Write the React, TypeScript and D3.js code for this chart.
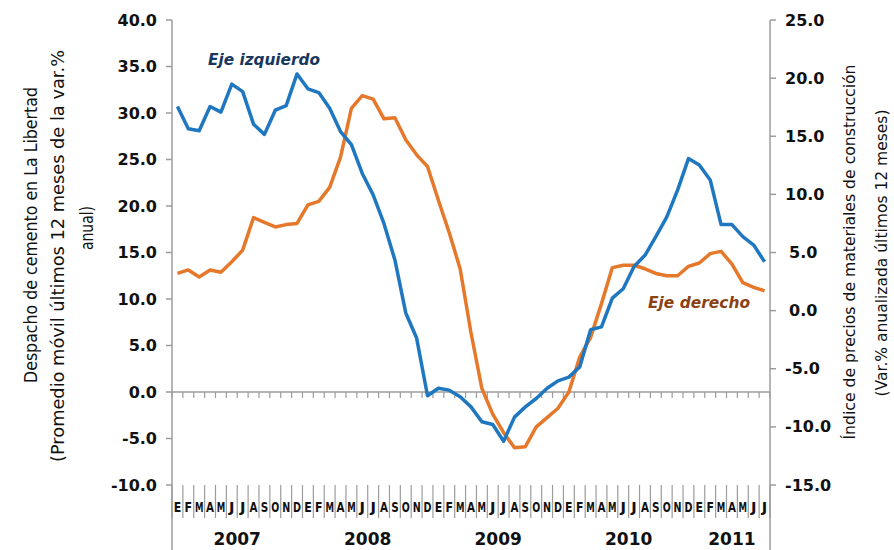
import React from "react";
import * as d3 from "d3";

const months2007 = ["E", "F", "M", "A", "M", "J", "J", "A", "S", "O", "N", "D"];
const monthLetters: string[] = [
  ...months2007, ...months2007, ...months2007, ...months2007,
  "E", "F", "M", "A", "M", "J", "J",
];
const years = ["2007", "2008", "2009", "2010", "2011"];
const yearMonthCounts = [12, 12, 12, 12, 7];

// Despacho de cemento (eje izquierdo)
const cemento = [
  30.7, 28.3, 28.1, 30.7, 30.1, 33.1, 32.3, 28.8, 27.7, 30.3, 30.8, 34.2,
  32.6, 32.2, 30.5, 28.0, 26.6, 23.5, 21.2, 18.1, 14.2, 8.5, 5.8, -0.4,
  0.4, 0.2, -0.5, -1.6, -3.2, -3.5, -5.3, -2.7, -1.6, -0.7, 0.4, 1.2,
  1.6, 2.7, 6.7, 7.0, 10.1, 11.1, 13.5, 14.7, 16.7, 18.8, 21.7, 25.1,
  24.4, 22.8, 18.0, 18.0, 16.7, 15.8, 14.0,
];
// Índice de precios de materiales (eje derecho)
const materiales = [
  3.2, 3.5, 2.9, 3.5, 3.3, 4.2, 5.2, 8.0, 7.6, 7.2, 7.4, 7.5,
  9.1, 9.4, 10.6, 13.2, 17.4, 18.5, 18.2, 16.5, 16.6, 14.7, 13.4, 12.4,
  9.5, 6.7, 3.6, -1.9, -6.7, -8.9, -10.5, -11.8, -11.7, -10.0, -9.2, -8.4,
  -7.0, -4.0, -2.3, 0.6, 3.7, 3.9, 3.9, 3.6, 3.2, 3.0, 3.0, 3.8,
  4.1, 4.9, 5.1, 4.0, 2.4, 2.0, 1.7,
];
const leftTicks = [40, 35, 30, 25, 20, 15, 10, 5, 0, -5, -10];
const rightTicks = [25, 20, 15, 10, 5, 0, -5, -10, -15];

const W = 894;
const H = 550;
const X0 = 172;
const X1 = 770;
const YT = 20;
const YB = 485;
const AXIS = "#9c9c9c";
const BLUE = "#1f77c0";
const ORANGE = "#e5782a";
const FONT = "'DejaVu Sans', Verdana, sans-serif";

const letterWidth = (m: string) =>
  m === "M" ? 8.5 : m === "J" ? 5.5 : m === "A" || m === "N" || m === "D" || m === "O" ? 8 : 7.5;

export default function App() {
  const idx = d3.range(cemento.length);
  const x = d3.scaleBand<number>().domain(idx).range([X0, X1]).padding(0);
  const bw = x.bandwidth();
  const cx = (i: number) => (x(i) as number) + bw / 2;
  const yL = d3.scaleLinear().domain([-10, 40]).range([YB, YT]);
  const yR = d3.scaleLinear().domain([-15, 25]).range([YB, YT]);
  const lineL = d3.line<number>().x((_, i) => cx(i)).y((d) => yL(d));
  const lineR = d3.line<number>().x((_, i) => cx(i)).y((d) => yR(d));
  const y0 = yL(0);

  const boundaries = d3.range(cemento.length + 1).map((i) =>
    i < cemento.length ? (x(i) as number) : X1
  );
  const yearStarts = d3.cumsum([0, ...yearMonthCounts]);

  return (
    <svg
      width={W}
      height={H}
      style={{ position: "absolute", left: 0, top: 0, background: "#fff" }}
      fontFamily={FONT}
    >
      {/* left axis */}
      <line x1={X0} x2={X0} y1={YT} y2={H} stroke={AXIS} strokeWidth={1.5} />
      {leftTicks.map((t) => (
        <g key={"l" + t}>
          <line x1={X0 - 6} x2={X0} y1={yL(t)} y2={yL(t)} stroke={AXIS} strokeWidth={1.5} />
          <text
            x={157}
            y={yL(t)}
            textAnchor="end"
            dominantBaseline="central"
            fontSize={16}
            fontWeight="bold"
            fill="#111"
          >
            {t.toFixed(1)}
          </text>
        </g>
      ))}
      {/* right axis */}
      <line x1={X1} x2={X1} y1={YT} y2={H} stroke={AXIS} strokeWidth={1.5} />
      {rightTicks.map((t) => (
        <g key={"r" + t}>
          <line x1={X1} x2={X1 + 6} y1={yR(t)} y2={yR(t)} stroke={AXIS} strokeWidth={1.5} />
          <text
            x={t < 10 && t >= 0 ? 789 : 785}
            y={yR(t)}
            textAnchor="start"
            dominantBaseline="central"
            fontSize={16}
            fontWeight="bold"
            fill="#111"
          >
            {t.toFixed(1)}
          </text>
        </g>
      ))}
      {/* zero line with small ticks */}
      <line x1={X0} x2={X1} y1={y0} y2={y0} stroke={AXIS} strokeWidth={1.5} />
      {boundaries.map((bx, i) => (
        <line key={"zt" + i} x1={bx} x2={bx} y1={y0} y2={y0 + 6} stroke={AXIS} strokeWidth={1.2} />
      ))}
      {/* category label area */}
      {boundaries.map((bx, i) => (
        <line key={"mt" + i} x1={bx} x2={bx} y1={YB} y2={518} stroke={AXIS} strokeWidth={1.2} />
      ))}
      {yearStarts.map((s, i) => (
        <line
          key={"yd" + i}
          x1={boundaries[s]}
          x2={boundaries[s]}
          y1={YB}
          y2={H}
          stroke={AXIS}
          strokeWidth={1.5}
        />
      ))}
      {monthLetters.map((m, i) => (
        <text
          key={"m" + i}
          x={cx(i)}
          y={507}
          textAnchor="middle"
          dominantBaseline="central"
          fontSize={14}
          fontWeight="bold"
          fill="#111"
          textLength={letterWidth(m)}
          lengthAdjust="spacingAndGlyphs"
        >
          {m}
        </text>
      ))}
      {years.map((yLabel, i) => {
        const a = boundaries[yearStarts[i]];
        const b = boundaries[yearStarts[i + 1]];
        return (
          <text
            key={yLabel}
            x={(a + b) / 2}
            y={545}
            textAnchor="middle"
            fontSize={17}
            fontWeight="bold"
            fill="#111"
          >
            {yLabel}
          </text>
        );
      })}
      {/* series */}
      <path d={lineR(materiales) || ""} fill="none" stroke={ORANGE} strokeWidth={3.5} strokeLinejoin="round" />
      <path d={lineL(cemento) || ""} fill="none" stroke={BLUE} strokeWidth={3.5} strokeLinejoin="round" />
      {/* annotations */}
      <text
        x={208}
        y={65}
        fontSize={16}
        fontWeight="bold"
        fontStyle="italic"
        fill="#17375e"
        textLength={112}
        lengthAdjust="spacingAndGlyphs"
      >
        Eje izquierdo
      </text>
      <text
        x={648}
        y={308}
        fontSize={16}
        fontWeight="bold"
        fontStyle="italic"
        fill="#8a4212"
        textLength={102}
        lengthAdjust="spacingAndGlyphs"
      >
        Eje derecho
      </text>
      {/* left title */}
      <g fontSize={17} fill="#111">
        <text
          transform="translate(31,235) rotate(-90)"
          textAnchor="middle"
          dominantBaseline="central"
          textLength={296}
          lengthAdjust="spacingAndGlyphs"
        >
          Despacho de cemento en La Libertad
        </text>
        <text
          transform="translate(58,256) rotate(-90)"
          textAnchor="middle"
          dominantBaseline="central"
          textLength={412}
          lengthAdjust="spacingAndGlyphs"
        >
          (Promedio móvil últimos 12 meses de la var.%
        </text>
        <text
          transform="translate(87,228) rotate(-90)"
          textAnchor="middle"
          dominantBaseline="central"
          textLength={44}
          lengthAdjust="spacingAndGlyphs"
        >
          anual)
        </text>
      </g>
      {/* right title */}
      <g fontSize={15} fill="#111">
        <text
          transform="translate(850,252) rotate(-90)"
          textAnchor="middle"
          dominantBaseline="central"
          textLength={375}
          lengthAdjust="spacingAndGlyphs"
        >
          Índice de precios de materiales de construcción
        </text>
        <text
          transform="translate(882,253) rotate(-90)"
          textAnchor="middle"
          dominantBaseline="central"
          textLength={287}
          lengthAdjust="spacingAndGlyphs"
        >
          (Var.% anualizada últimos 12 meses)
        </text>
      </g>
    </svg>
  );
}
